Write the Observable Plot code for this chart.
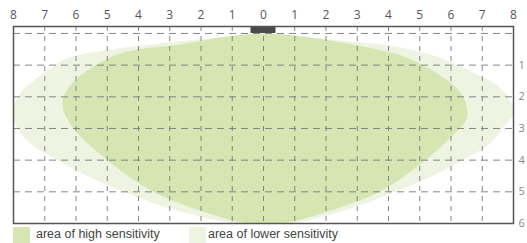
<!DOCTYPE html>
<html>
<head>
<meta charset="utf-8">
<script src="https://cdn.jsdelivr.net/npm/d3@7"></script>
<script src="https://cdn.jsdelivr.net/npm/@observablehq/plot@0.6"></script>
<style>
  html, body { margin: 0; padding: 0; background: #fff; }
  #chart { width: 527px; }
  #chart svg { overflow: visible; display: block; }
  .legend { position: relative; height: 17px; font-family: "Liberation Sans", Arial, sans-serif; font-size: 12.5px; color: #444; }
  .legend .sw { position: absolute; top: 1px; width: 17px; height: 16px; }
  .legend .lb { position: absolute; top: 0px; line-height: 16px; }
</style>
</head>
<body>
<div id="chart"></div>
<script>
// Top axis tick values (distance from sensor)
const xTicks = [-8,-7,-6,-5,-4,-3,-2,-1,0,1,2,3,4,5,6,7,8];
// Right axis tick values (depth)
const yTicks = [1,2,3,4,5,6];
// Horizontal grid rows
const gridRows = [0,1,2,3,4,5];
// Vertical grid columns
const gridCols = [-7,-6,-5,-4,-3,-2,-1,0,1,2,3,4,5,6,7];

// Area of high sensitivity – boundary points (clockwise from the sensor)
const highX = [0, 1.3, 2.46, 3.6, 4.6, 5.66, 6.3, 6.5, 6.5, 6.27, 5.18, 3.71, 2.43, 0.7, 0, -0.64, -1.7, -3.52, -4.99, -6.08, -6.43, -6.34, -5.86, -4.58, -2.66, -1.3];
const highY = [0, 0.1, 0.28, 0.5, 0.77, 1.33, 1.87, 2.3, 2.7, 3.0, 4.0, 5.0, 5.5, 5.98, 6.05, 5.98, 5.7, 5.0, 4.0, 3.0, 2.3, 1.87, 1.33, 0.63, 0.35, 0.12];

// Area of lower sensitivity – boundary points (clockwise from the sensor)
const lowX = [0, 2, 3.5, 4.6, 5.66, 6.7, 7.5, 7.9, 8.0, 7.65, 7.23, 6.37, 5.4, 4.22, 2.85, 1.0, 0, -1.06, -3.07, -4.48, -5.63, -6.6, -7.46, -7.87, -8.0, -7.8, -7.36, -6.3, -5.0, -3.5, -2.0];
const lowY = [0, 0.18, 0.32, 0.48, 0.77, 1.23, 1.65, 2.11, 2.5, 3.0, 3.5, 4.0, 4.5, 5.0, 5.5, 5.98, 6.05, 5.98, 5.5, 5.0, 4.5, 4.0, 3.47, 3.0, 2.4, 1.9, 1.5, 0.8, 0.52, 0.33, 0.18];

// Sensor housing extent
const sensorX = [-0.4, 0.4];
const sensorY = [-0.22, 0];

const legendLabels = ["area of high sensitivity", "area of lower sensitivity"];
const colHigh = "#d5e6b3";
const colLow = "#eef4e1";

const high = highX.map((x, i) => ({x, y: highY[i]}));
const low = lowX.map((x, i) => ({x, y: lowY[i]}));

const plot = Plot.plot({
  width: 527,
  height: 226,
  marginLeft: 13,
  marginRight: 14,
  marginTop: 26,
  marginBottom: 3,
  style: {fontFamily: "'Open Sans', sans-serif", fontSize: "12px", color: "#555", background: "#fff", overflow: "visible"},
  x: {domain: [-8, 8]},
  y: {domain: [-0.22, 6], reverse: true},
  marks: [
    Plot.line(low, {x: "x", y: "y", fill: colLow, stroke: "none", curve: "catmull-rom-closed", clip: true}),
    Plot.line(high, {x: "x", y: "y", fill: colHigh, stroke: "none", curve: "catmull-rom-closed", clip: true}),
    Plot.ruleX(gridCols, {stroke: "#7a7a7a", strokeWidth: 1, strokeDasharray: "5,5", strokeOpacity: 0.9}),
    Plot.ruleY(gridRows, {stroke: "#7a7a7a", strokeWidth: 1, strokeDasharray: "7,5", strokeOpacity: 0.9}),
    Plot.rect([{x1: sensorX[0], x2: sensorX[1], y1: sensorY[0], y2: sensorY[1]}], {x1: "x1", x2: "x2", y1: "y1", y2: "y2", fill: "#4a4a4a"}),
    Plot.frame({stroke: "#555", strokeWidth: 1.5}),
    Plot.axisX(xTicks, {anchor: "top", tickSize: 0, tickPadding: 8, tickFormat: d => Math.abs(d), fill: "#555", fontSize: 12}),
    Plot.axisY(yTicks, {anchor: "right", tickSize: 0, tickPadding: 5, fill: "#888", fontSize: 11})
  ]
});
document.getElementById("chart").appendChild(plot);

const legend = document.createElement("div");
legend.className = "legend";
const items = [
  {label: legendLabels[0], color: colHigh, sw: 13, lb: 36},
  {label: legendLabels[1], color: colLow, sw: 189, lb: 208}
];
for (const it of items) {
  const s = document.createElement("div");
  s.className = "sw"; s.style.left = it.sw + "px"; s.style.background = it.color;
  const t = document.createElement("div");
  t.className = "lb"; t.style.left = it.lb + "px"; t.textContent = it.label;
  legend.appendChild(s); legend.appendChild(t);
}
document.getElementById("chart").appendChild(legend);
</script>
</body>
</html>
